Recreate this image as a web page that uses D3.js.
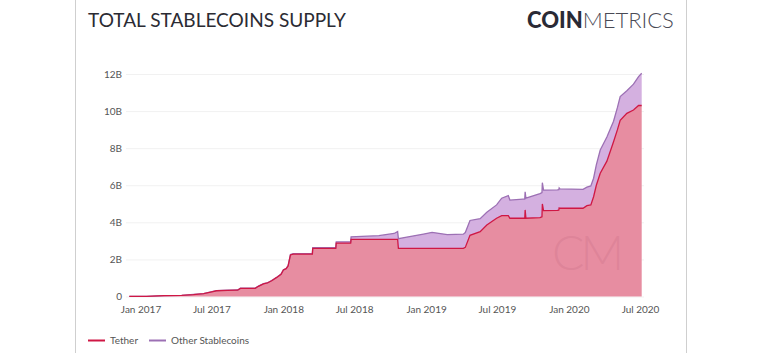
<!DOCTYPE html>
<html><head><meta charset="utf-8">
<script src="https://cdn.jsdelivr.net/npm/d3@7"></script>
<style>
html,body{margin:0;padding:0;background:#fff;}
svg{display:block;font-family:Lato,"Open Sans",sans-serif;}
</style></head>
<body>
<svg id="c" width="768" height="353"></svg>
<script>
// Dates of observations
const dates = [
"2016-12-02","2017-01-15","2017-03-01","2017-04-15","2017-05-15","2017-06-10","2017-07-01","2017-07-13",
"2017-08-10","2017-09-05","2017-09-12","2017-10-20","2017-10-28","2017-11-10","2017-11-20","2017-12-01",
"2017-12-14","2017-12-25","2017-12-31","2018-01-07","2018-01-12","2018-01-18","2018-01-25","2018-03-15",
"2018-03-16","2018-05-14","2018-05-15","2018-06-21","2018-06-22","2018-09-01","2018-10-10","2018-10-19",
"2018-10-21","2018-11-15","2018-12-24","2019-01-15","2019-02-23","2019-04-05","2019-04-10","2019-04-22",
"2019-05-18","2019-06-04","2019-06-29","2019-07-12","2019-07-29","2019-08-02","2019-09-04","2019-09-09",
"2019-09-10","2019-09-12","2019-10-18","2019-10-23","2019-10-24","2019-10-27","2019-12-01","2019-12-05",
"2019-12-06","2019-12-08","2020-02-05","2020-02-15","2020-02-25","2020-03-03","2020-03-10","2020-03-20",
"2020-04-06","2020-04-23","2020-05-03","2020-05-10","2020-05-27","2020-06-13","2020-06-26","2020-07-04"
];
// Tether supply (billions USD)
const tether = [
0.01,0.01,0.05,0.06,0.10,0.15,0.25,0.31,
0.33,0.34,0.44,0.44,0.55,0.68,0.73,0.85,
1.03,1.20,1.43,1.50,1.65,2.24,2.29,2.29,
2.60,2.60,2.88,2.88,3.08,3.08,3.08,3.08,
2.60,2.60,2.60,2.60,2.60,2.60,2.65,3.30,
3.50,3.86,4.22,4.36,4.36,4.22,4.22,4.22,
4.67,4.22,4.25,4.30,4.99,4.63,4.65,4.66,
4.78,4.76,4.76,4.90,4.94,5.38,6.00,6.65,
7.30,8.35,9.00,9.50,9.88,10.06,10.30,10.30
];
// Other stablecoins supply (billions USD)
const other = [
0.00,0.00,0.00,0.00,0.01,0.01,0.01,0.01,
0.01,0.01,0.01,0.01,0.01,0.01,0.01,0.01,
0.01,0.01,0.01,0.01,0.01,0.02,0.02,0.03,
0.03,0.05,0.07,0.07,0.14,0.20,0.32,0.42,
0.52,0.62,0.77,0.86,0.74,0.76,0.80,0.80,
0.70,0.68,0.72,0.94,1.08,0.98,1.03,1.03,
0.98,1.08,1.30,1.30,1.15,1.11,1.10,1.10,
1.07,1.04,1.02,1.00,1.02,1.00,1.10,1.25,
1.30,1.10,1.20,1.28,1.22,1.39,1.56,1.74
];
const yTicks = [0,2,4,6,8,10,12];
const xTickLabels = ["Jan 2017","Jul 2017","Jan 2018","Jul 2018","Jan 2019","Jul 2019","Jan 2020","Jul 2020"];
const seriesNames = ["Tether","Other Stablecoins"];

const parse = d3.timeParse("%Y-%m-%d");
const data = dates.map((d,i)=>({date:parse(d), tether:tether[i], total:tether[i]+other[i]}));

const svg = d3.select("#c");
// card borders
svg.append("line").attr("x1",75.5).attr("x2",75.5).attr("y1",0).attr("y2",353).attr("stroke","#cfcfcf");
svg.append("line").attr("x1",686.5).attr("x2",686.5).attr("y1",0).attr("y2",353).attr("stroke","#cfcfcf");

// title
svg.append("text").attr("x",88).attr("y",27).text("TOTAL STABLECOINS SUPPLY")
  .attr("font-size",19).attr("fill","#2b2b33").attr("font-weight",400)
  .attr("textLength",258).attr("lengthAdjust","spacingAndGlyphs");
// logo
const logo = svg.append("text").attr("x",527).attr("y",28).attr("font-size",22).attr("fill","#2a2a35");
logo.append("tspan").attr("font-weight",900).text("COIN");
logo.append("tspan").attr("font-weight",300).attr("fill","#4a4a55").text("METRICS");

const x = d3.scaleTime().domain([parse("2016-12-02"), parse("2020-07-04")]).range([129.3, 641.7]);
const y = d3.scaleLinear().domain([0,12]).range([296.5, 74]);

// gridlines
svg.append("g").selectAll("line").data(yTicks).join("line")
  .attr("x1",126).attr("x2",644).attr("y1",d=>y(d)+0.5).attr("y2",d=>y(d)+0.5)
  .attr("stroke","#f1f1f1");

// y axis labels
svg.append("g").selectAll("text").data(yTicks).join("text")
  .attr("x",122).attr("y",d=>y(d)+3.5).attr("text-anchor","end")
  .attr("font-size",10).attr("fill","#555").text(d=>d===0?"0":d+"B");

// x axis labels
const xTickDates = xTickLabels.map(s=>d3.timeParse("%b %Y")(s));
svg.append("g").selectAll("text").data(xTickDates).join("text")
  .attr("x",d=>x(d)).attr("y",313).attr("text-anchor","middle")
  .attr("font-size",10).attr("fill","#555").text(d=>d3.timeFormat("%b %Y")(d));

// areas
const areaOther = d3.area().x(d=>x(d.date)).y0(d=>y(d.tether)).y1(d=>y(d.total));
const areaTether = d3.area().x(d=>x(d.date)).y0(y(0)).y1(d=>y(d.tether));
svg.append("path").datum(data).attr("d",areaOther).attr("fill","#d4b0e0");
svg.append("path").datum(data).attr("d",areaTether).attr("fill","#e78da1");

// watermark
svg.append("text").attr("x",586).attr("y",270).attr("text-anchor","middle")
  .attr("font-size",48).attr("font-weight",300).attr("fill","#c86f86").attr("fill-opacity",0.3)
  .attr("letter-spacing",-4).text("CM");

// lines
svg.append("path").datum(data).attr("d",d3.line().x(d=>x(d.date)).y(d=>y(d.total)))
  .attr("fill","none").attr("stroke","#9c70b4").attr("stroke-width",1.3);
svg.append("path").datum(data).attr("d",d3.line().x(d=>x(d.date)).y(d=>y(d.tether)))
  .attr("fill","none").attr("stroke","#cf1744").attr("stroke-width",1.3);

// legend
const lg = svg.append("g");
const lcol = ["#cf1744","#9c70b4"];
const lx = [88,149];
seriesNames.forEach((n,i)=>{
  lg.append("line").attr("x1",lx[i]).attr("x2",lx[i]+17).attr("y1",340.5).attr("y2",340.5)
    .attr("stroke",lcol[i]).attr("stroke-width",2);
  lg.append("text").attr("x",lx[i]+22).attr("y",344).attr("font-size",10).attr("fill","#555").text(n);
});
</script>
</body></html>
